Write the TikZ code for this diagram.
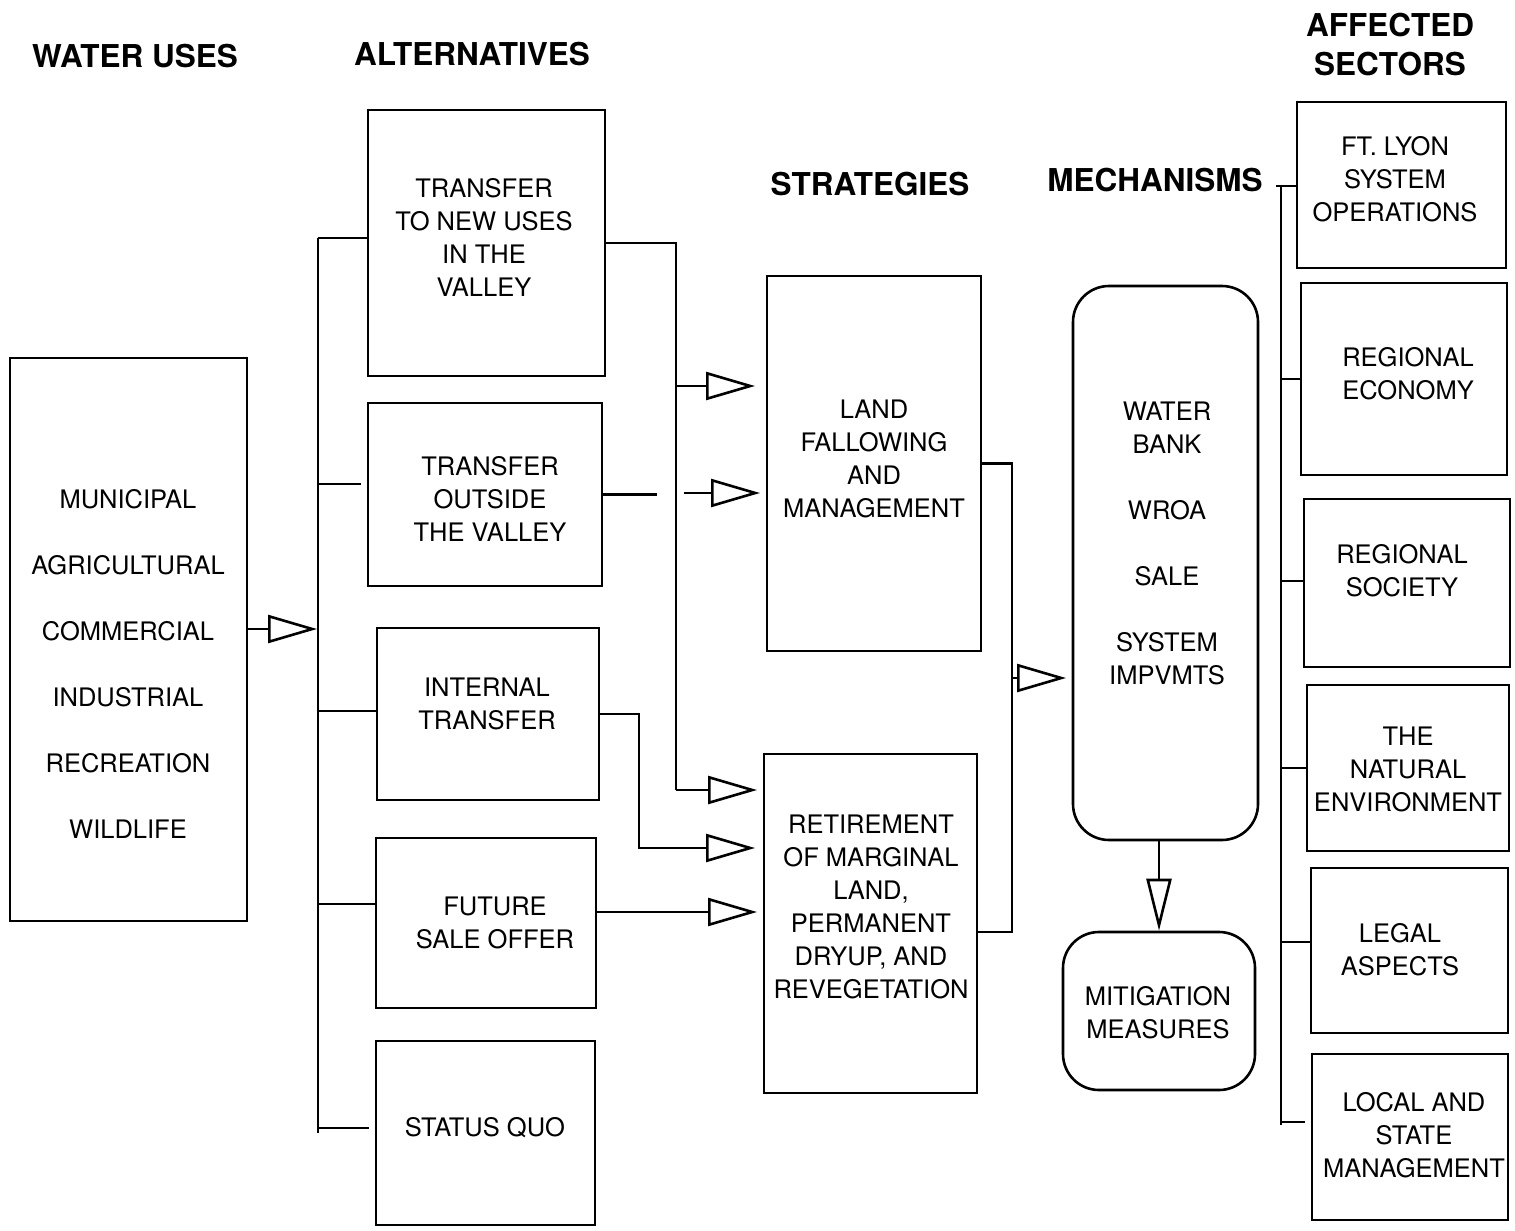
\documentclass[tikz,border=0pt]{standalone}
\usepackage{fontspec}
\setmainfont{TeX Gyre Heros}
\usetikzlibrary{arrows.meta,calc}
\begin{document}
\begin{tikzpicture}[x=1pt,y=-1pt,line width=2.6pt,
  box/.style={draw,rectangle,inner sep=0pt},
  rbox/.style={draw,rectangle,rounded corners=36pt,inner sep=0pt},
  lbl/.style={align=center,font=\fontsize{25.5}{33}\selectfont,inner sep=0pt},
  hdr/.style={align=center,font=\fontsize{31.5}{39}\selectfont\bfseries,inner sep=0pt},
  tri/.style={-{Triangle[open,length=49pt,width=28pt]}},
  trid/.style={-{Triangle[open,length=52pt,width=25pt]}}
]
\useasboundingbox (0,0) rectangle (1515,1231);

% headers
\node[hdr] (hWU) at (135,56) {WATER USES};
\node[hdr] (hAL) at (472,54) {ALTERNATIVES};
\node[hdr] (hST) at (870,184) {STRATEGIES};
\node[hdr] (hME) at (1155,180) {MECHANISMS};
\node[hdr] (hAS) at (1390,44.5) {AFFECTED\\SECTORS};

% water uses
\node[box,minimum width=237pt,minimum height=563pt] (wu) at (128.5,639.5) {};
\node[lbl,font=\fontsize{25.5}{66}\selectfont] (wuT) at (128,664) {MUNICIPAL\\AGRICULTURAL\\COMMERCIAL\\INDUSTRIAL\\RECREATION\\WILDLIFE};

% alternatives
\node[box,minimum width=237pt,minimum height=266pt] (a1) at (486.5,243) {};
\node[lbl] (a1T) at (484,237.5) {TRANSFER\\TO NEW USES\\IN THE\\VALLEY};
\node[box,minimum width=234pt,minimum height=183pt] (a2) at (485,494.5) {};
\node[lbl] (a2T) at (490,499) {TRANSFER\\OUTSIDE\\THE VALLEY};
\node[box,minimum width=222pt,minimum height=172pt] (a3) at (488,714) {};
\node[lbl] (a3T) at (487,704) {INTERNAL\\TRANSFER};
\node[box,minimum width=220pt,minimum height=170pt] (a4) at (486,923) {};
\node[lbl] (a4T) at (495,922.5) {FUTURE\\SALE OFFER};
\node[box,minimum width=219pt,minimum height=184pt] (a5) at (485.5,1133) {};
\node[lbl] (a5T) at (485,1128) {STATUS QUO};

% strategies
\node[box,minimum width=214pt,minimum height=375pt] (s1) at (874,463.5) {};
\node[lbl] (s1T) at (874,459) {LAND\\FALLOWING\\AND\\MANAGEMENT};
\node[box,minimum width=213pt,minimum height=339pt] (s2) at (870.5,923.5) {};
\node[lbl] (s2T) at (871,906.5) {RETIREMENT\\OF MARGINAL\\LAND,\\PERMANENT\\DRYUP, AND\\REVEGETATION};

% mechanisms
\node[rbox,minimum width=185pt,minimum height=554pt] (me) at (1165.5,563) {};
\node[lbl] (meT) at (1167,543) {WATER\\BANK\\[33pt]WROA\\[33pt]SALE\\[33pt]SYSTEM\\IMPVMTS};
\node[rbox,minimum width=192pt,minimum height=158pt] (mi) at (1159,1011) {};
\node[lbl] (miT) at (1158,1013) {MITIGATION\\MEASURES};

% affected sectors
\node[box,minimum width=209pt,minimum height=166pt] (e1) at (1401.5,185) {};
\node[lbl] (e1T) at (1395,179) {FT. LYON\\SYSTEM\\OPERATIONS};
\node[box,minimum width=206pt,minimum height=192pt] (e2) at (1404,379) {};
\node[lbl] (e2T) at (1408,373.5) {REGIONAL\\ECONOMY};
\node[box,minimum width=206pt,minimum height=168pt] (e3) at (1407,583) {};
\node[lbl] (e3T) at (1402,571) {REGIONAL\\SOCIETY};
\node[box,minimum width=202pt,minimum height=166pt] (e4) at (1408,768) {};
\node[lbl] (e4T) at (1408,769.5) {THE\\NATURAL\\ENVIRONMENT};
\node[box,minimum width=197pt,minimum height=165pt] (e5) at (1409.5,950.5) {};
\node[lbl] (e5T) at (1400,949.5) {LEGAL\\ASPECTS};
\node[box,minimum width=196pt,minimum height=166pt] (e6) at (1410,1137) {};
\node[lbl] (e6T) at (1414,1135) {LOCAL AND\\STATE\\MANAGEMENT};

% ---- connectors: water uses -> alternatives
\coordinate (bLt) at (318,238);
\coordinate (bLb) at (318,1133);
\coordinate (wuTip) at (317,629);
\draw (bLt) -- (bLb);
\draw[tri] ([yshift=10.5pt]wu.east) -- (wuTip);
\draw (bLt) -- (a1.west |- bLt);
\draw (318,484) -- ([xshift=-6pt]a2.west |- 0,484);
\draw (318,711) -- (a3.west |- 0,711);
\draw (318,904) -- (a4.west |- 0,904);
\draw (318,1128) -- ([xshift=-6pt]a5.west |- 0,1128);

% ---- alternatives -> strategies
\coordinate (v1t) at (676,243);
\coordinate (v1b) at (676,790);
\coordinate (t1) at (755,386);
\coordinate (t2) at (760,493);
\coordinate (t3) at (757,790);
\coordinate (t4) at (755,848);
\coordinate (t5) at (757,912);
\draw (a1.east) -- (v1t) -- (v1b);
\draw[tri] (v1t |- t1) -- (t1);
\draw[tri] (v1b) -- (t3);
\draw (a2.east) -- (657,494.5);
\draw[tri] (684,493) -- (t2);
\draw[tri] (a3.east) -| (639,848) -- (t4);
\draw[tri] ([yshift=11pt]a4.east) -- (t5);

% ---- strategies -> mechanisms
\coordinate (t6) at (1066,678);
\draw (s1.east) -| (1012,932) -- (s2.east |- 0,932);
\draw[tri] (1012,678) -- (t6);
\draw[trid] (me.south -| mi.north) -- (mi.north);

% ---- affected sectors bus
\coordinate (bRt) at (1281,186);
\coordinate (bRb) at (1281,1125);
\draw (bRt) -- (bRb);
\draw ([xshift=-5pt]bRt) -- (e1.west |- bRt);
\draw (bRt |- e2.west) -- (e2.west);
\draw (bRt |- 0,581) -- (e3.west |- 0,581);
\draw (bRt |- e4.west) -- (e4.west);
\draw (bRt |- 0,942) -- (e5.west |- 0,942);
\draw (bRt |- 0,1122) -- ([xshift=-6pt]e6.west |- 0,1122);
\end{tikzpicture}
\end{document}
